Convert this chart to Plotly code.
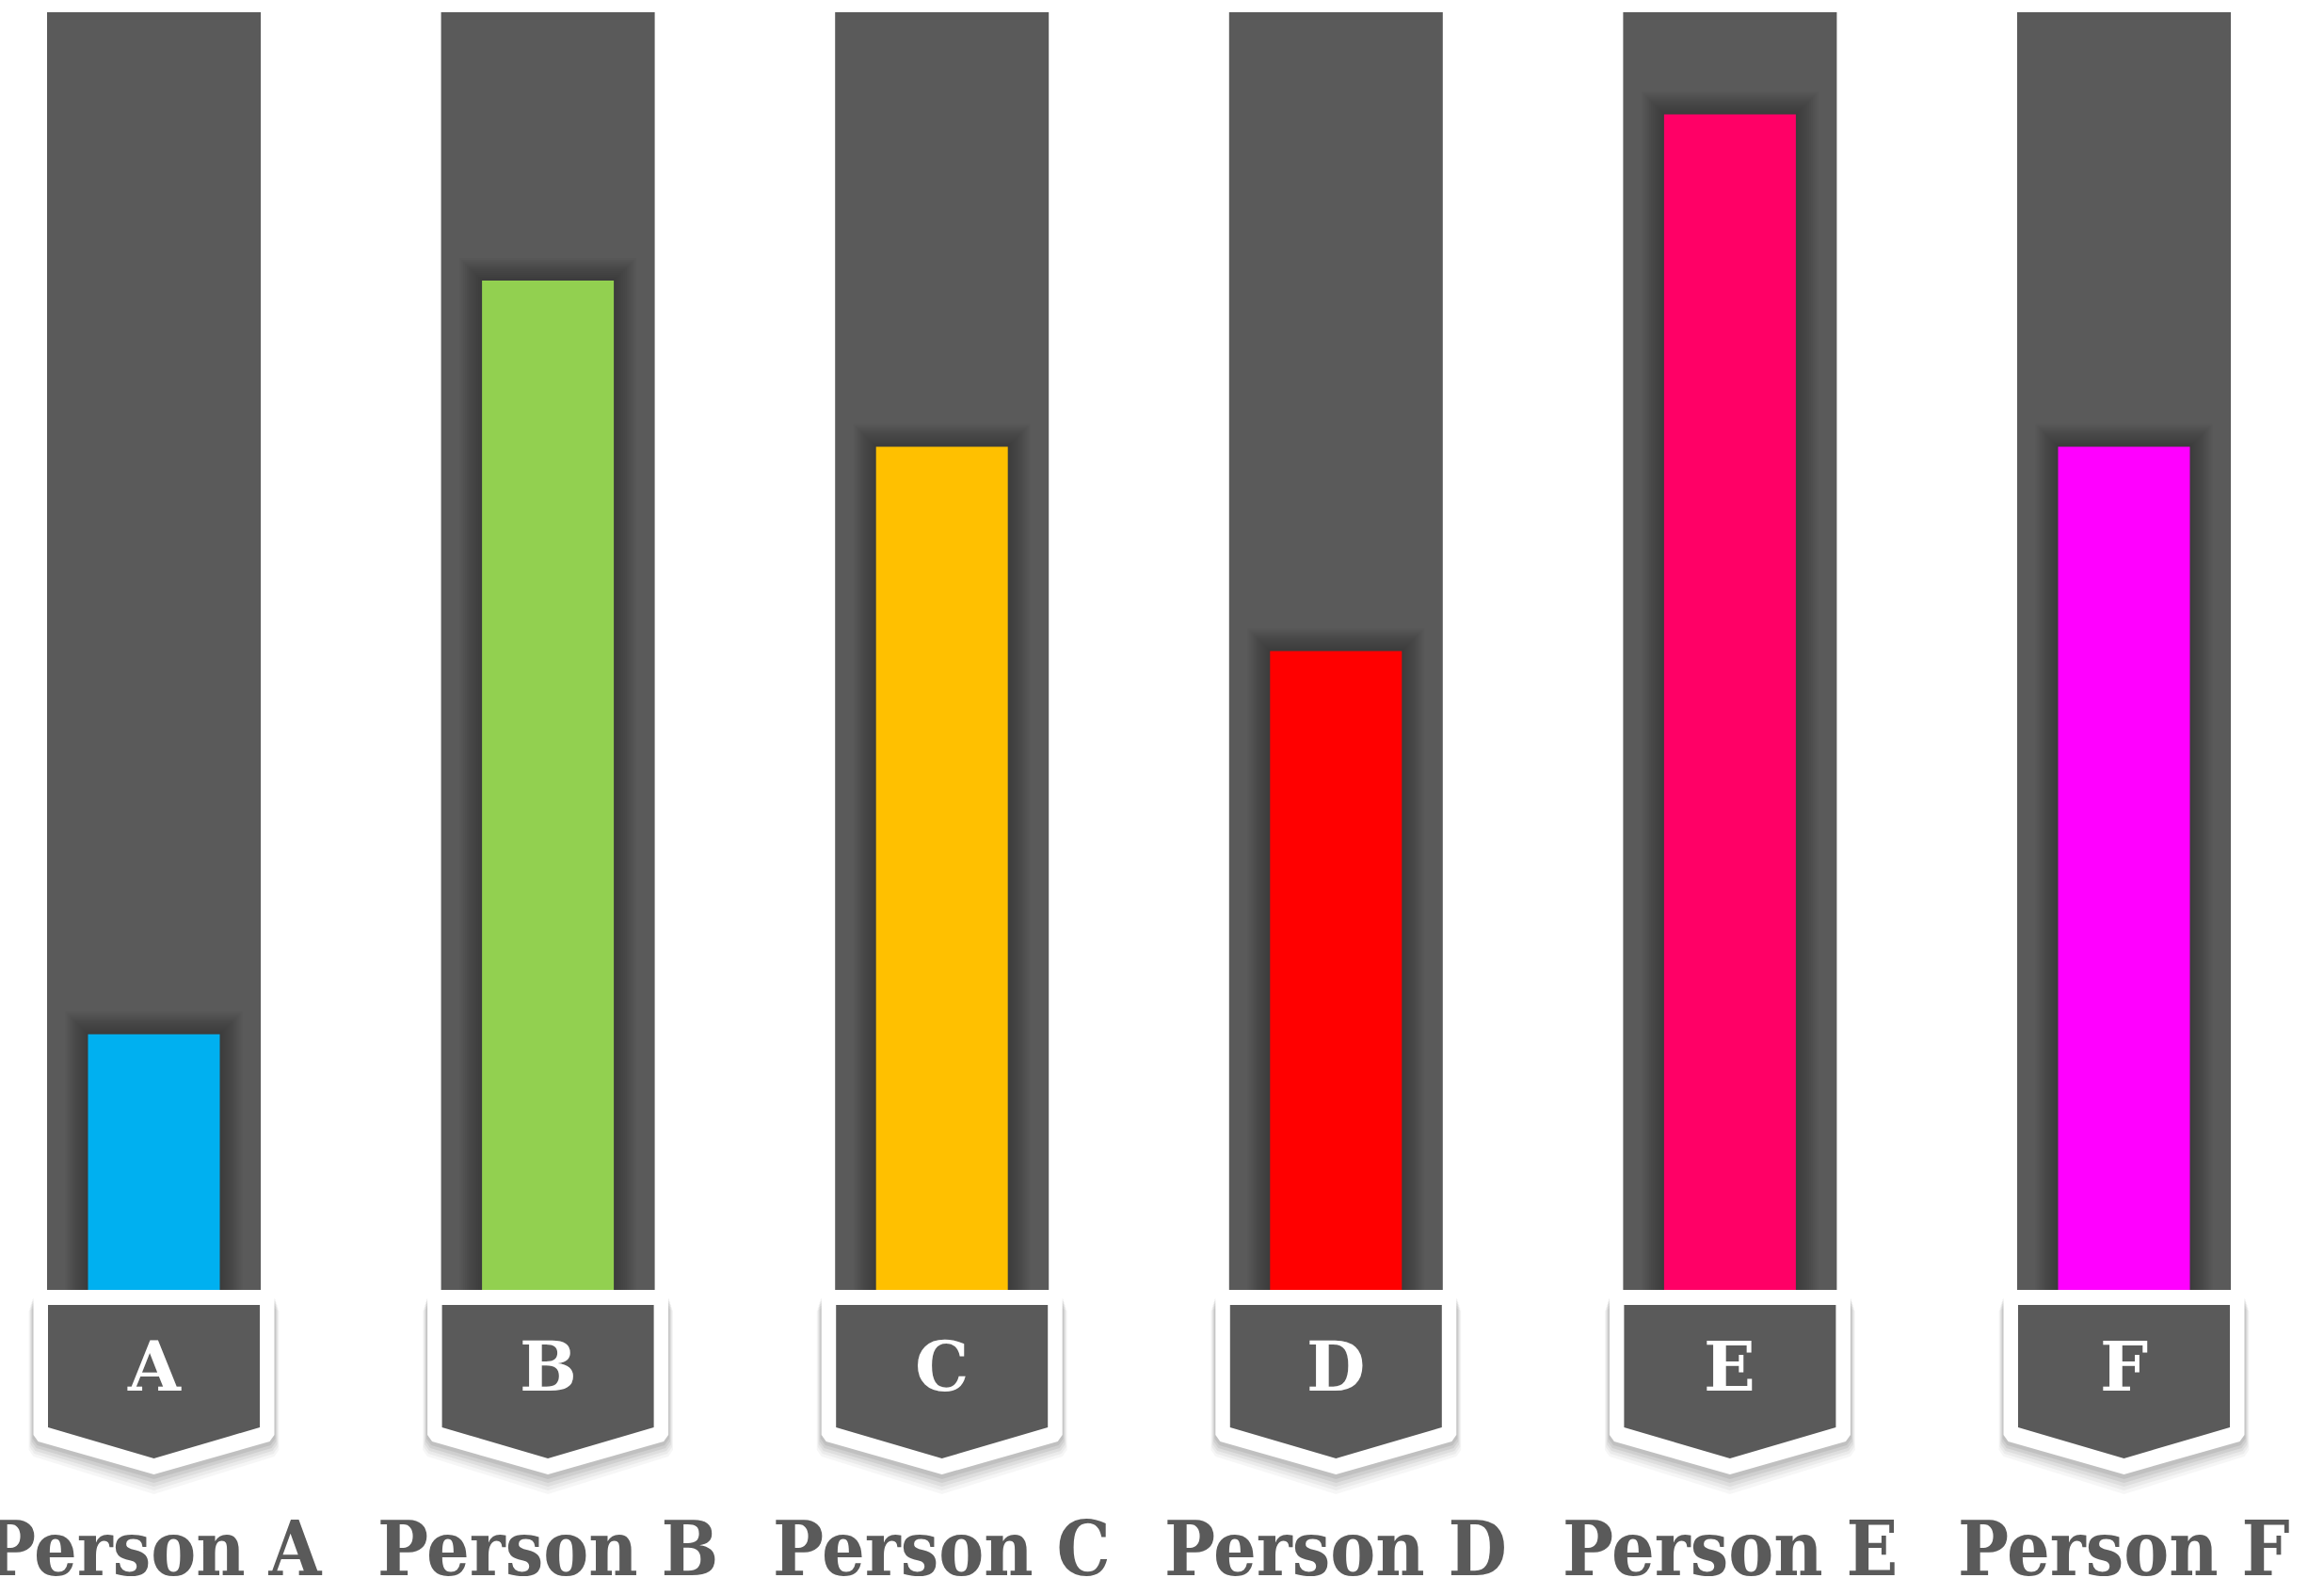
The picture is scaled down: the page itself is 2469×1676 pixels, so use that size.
import plotly.graph_objects as go

# ---- data ----
categories = ["Person A", "Person B", "Person C", "Person D", "Person E", "Person F"]
letters = ["A", "B", "C", "D", "E", "F"]
values = [20, 79, 66, 50, 92, 66]
max_value = 100
colors = ["#00B0F0", "#92D050", "#FFC000", "#FF0000", "#FF0066", "#FF00FF"]

# ---- styling / geometry (pixel based helpers) ----
W, H = 2469, 1676
XUNIT = 418.6          # px per category step
C0PX = 163.5           # px of first category centre
Y0PX = 1370.0          # px of value 0
YUNIT = 13.57          # px per value unit
GRAY = "#5a5a5a"

def ypx(p):
    return (Y0PX - p) / YUNIT

def dx(px):
    return px / XUNIT

col_width = dx(227)
bar_width = dx(140)

fig = go.Figure()

# background columns
fig.add_trace(go.Bar(x=categories, y=[max_value] * len(categories), width=col_width,
                     marker=dict(color=GRAY, line=dict(width=0)), hoverinfo="skip",
                     showlegend=False))

# soft shadow around coloured bars
for k in range(1, 13):
    grow = 2.0 * k
    fig.add_trace(go.Bar(x=categories, y=[v + grow / YUNIT for v in values],
                         width=bar_width + 2 * dx(grow),
                         marker=dict(color="rgba(0,0,0,0.028)", line=dict(width=0)),
                         hoverinfo="skip", showlegend=False))

# coloured value bars
fig.add_trace(go.Bar(x=categories, y=values, width=bar_width,
                     marker=dict(color=colors, line=dict(width=0)),
                     showlegend=False))

shapes = []
annotations = []

def path_from(pts):
    return "M " + " L ".join(f"{x:.5f},{y:.5f}" for x, y in pts) + " Z"

for i, (cat, let) in enumerate(zip(categories, letters)):
    def P(ox, oy, sh=0.0):
        return (i + dx(ox), ypx(oy + sh))
    outer = lambda sh=0.0, g=0.0: [P(-128 + 6, 1370, sh), P(128 - 6, 1370, sh), P(128 + g, 1376, sh),
                                    P(128 + g, 1524, sh), P(123 + g, 1531, sh), P(0, 1566 + g, sh),
                                    P(-123 - g, 1531, sh), P(-128 - g, 1524, sh), P(-128 - g, 1376, sh)]
    # drop shadow
    for s, g, a in [(16, 5, 0.035), (13, 4, 0.045), (10, 3, 0.055), (7, 2, 0.065), (4, 1, 0.07)]:
        shapes.append(dict(type="path", xref="x", yref="y", path=path_from(outer(s, g)),
                           fillcolor=f"rgba(0,0,0,{a})", line=dict(width=0), layer="above"))
    shapes.append(dict(type="path", xref="x", yref="y", path=path_from(outer()),
                       fillcolor="white", line=dict(width=0), layer="above"))
    inner = [P(-112.5, 1386), P(112.5, 1386), P(112.5, 1516), P(0, 1549), P(-112.5, 1516)]
    shapes.append(dict(type="path", xref="x", yref="y", path=path_from(inner),
                       fillcolor=GRAY, line=dict(width=0), layer="above"))
    annotations.append(dict(x=cat, y=ypx(1451), xref="x", yref="y", text=let, showarrow=False,
                            xanchor="center", yanchor="middle",
                            font=dict(family="DejaVu Serif", size=72, color="white", weight="bold")))
    annotations.append(dict(x=cat, y=ypx(1645), xref="x", yref="y", text=cat, showarrow=False,
                            xanchor="center", yanchor="middle",
                            font=dict(family="DejaVu Serif Condensed, DejaVu Serif", size=80,
                                      color=GRAY, weight="bold")))

xmin = -C0PX / XUNIT
xmax = (W - C0PX) / XUNIT

fig.update_layout(
    width=W, height=H,
    margin=dict(l=0, r=0, t=0, b=0),
    paper_bgcolor="white", plot_bgcolor="white",
    barmode="overlay",
    shapes=shapes, annotations=annotations,
    xaxis=dict(range=[xmin, xmax], showgrid=False, zeroline=False, showticklabels=False,
               showline=False, fixedrange=True),
    yaxis=dict(range=[ypx(H), ypx(0)], showgrid=False, zeroline=False, showticklabels=False,
               showline=False, fixedrange=True),
)

fig.write_html("out.html")
